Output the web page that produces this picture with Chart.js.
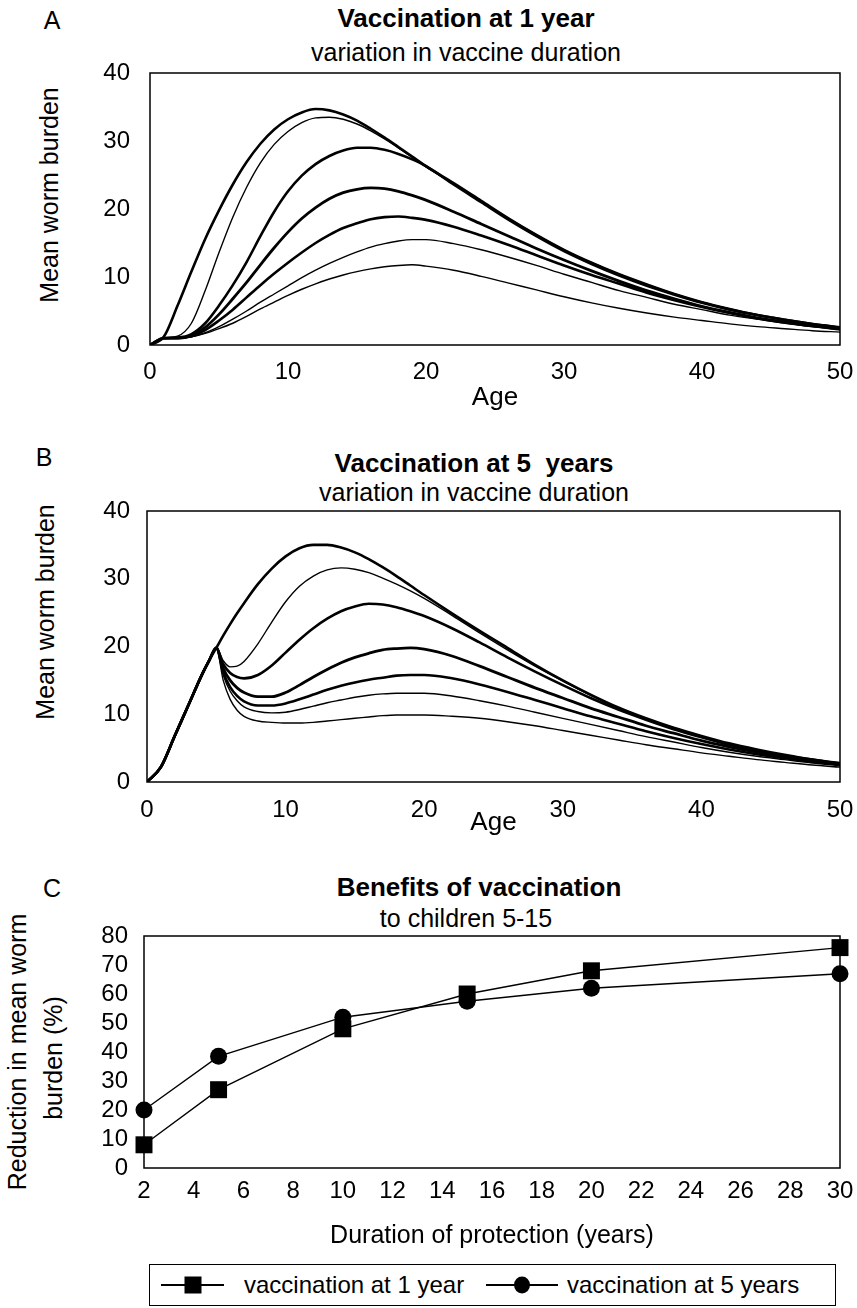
<!DOCTYPE html>
<html>
<head>
<meta charset="utf-8">
<title>Vaccination and mean worm burden</title>
<script src="https://cdn.jsdelivr.net/npm/chart.js@4.4.1/dist/chart.umd.min.js"></script>
<style>
  html, body { margin: 0; padding: 0; background: #fff; }
  body { font-family: "Liberation Sans", Arial, sans-serif; color: #000; }
  #page { position: relative; width: 857px; height: 1308px; overflow: hidden; background: #fff; }
  #page canvas { position: absolute; left: 0; }
  .t { position: absolute; white-space: pre; line-height: 1; transform: translate(-50%, -50%); }
  .letter { font-size: 25px; }
  .title { font-size: 26px; font-weight: bold; }
  .sub { font-size: 25px; }
  .ytitle { position: absolute; white-space: pre; line-height: 1; font-size: 25px; transform: translate(-50%, -50%) rotate(-90deg); }
  #legend { position: absolute; left: 149px; top: 1264px; width: 687px; height: 42px; border: 1.5px solid #000; box-sizing: border-box; }
  .sym { position: absolute; top: 50%; height: 1.5px; margin-top: -0.75px; background: #000; }
  .mk { position: absolute; left: 50%; top: 50%; background: #000; transform: translate(-50%, -50%); }
  .lt { position: absolute; top: 50%; font-size: 24px; line-height: 1; white-space: nowrap; transform: translateY(-50%); }
</style>
</head>
<body>
<div id="page">
  <div class="t letter" style="left:52px;top:20px">A</div>
  <div class="t title" style="left:466px;top:18px">Vaccination at 1 year</div>
  <div class="t sub" style="left:466px;top:52px">variation in vaccine duration</div>
  <div class="ytitle" style="left:49px;top:195px">Mean worm burden</div>
  <canvas id="chartA" width="880" height="382" style="top:33px"></canvas>

  <div class="t letter" style="left:44px;top:457px">B</div>
  <div class="t title" style="left:474px;top:463px">Vaccination at 5  years</div>
  <div class="t sub" style="left:474px;top:492px">variation in vaccine duration</div>
  <div class="ytitle" style="left:45px;top:612px">Mean worm burden</div>
  <canvas id="chartB" width="880" height="369" style="top:471px"></canvas>

  <div class="t letter" style="left:52px;top:888px">C</div>
  <div class="t title" style="left:479px;top:887px">Benefits of vaccination</div>
  <div class="t sub" style="left:466px;top:918px">to children 5-15</div>
  <div class="ytitle" style="left:17px;top:1052px">Reduction in mean worm</div>
  <div class="ytitle" style="left:53px;top:1058px">burden (%)</div>
  <canvas id="chartC" width="880" height="359" style="top:896px"></canvas>

  <div id="legend">
    <div class="sym" style="left:11px;width:63px"><div class="mk" style="width:17px;height:17px"></div></div>
    <div class="lt" style="left:94px">vaccination at 1 year</div>
    <div class="sym" style="left:336px;width:72px"><div class="mk" style="width:16px;height:17px;border-radius:50%"></div></div>
    <div class="lt" style="left:417px">vaccination at 5 years</div>
  </div>
</div>

<script>
// panel A: vaccination at 1 year, mean worm burden by age
const agesA = [0, 1, 2, 3, 4, 5, 6, 7, 8, 9, 10, 11, 12, 13, 14, 15, 16, 17, 18, 19, 20,
               22, 24, 26, 28, 30, 32, 34, 36, 38, 40, 42, 44, 46, 48, 50];
const burdenA1 = [0, 1.2, 5.8, 10.8, 15.6, 19.8, 23.6, 26.9, 29.6, 31.7, 33.2, 34.2, 34.7, 34.5, 33.9, 33.0, 31.8, 30.5, 29.1, 27.7, 26.3,
                  23.8, 21.2, 18.6, 16.2, 14.0, 12.1, 10.4, 8.9, 7.5, 6.3, 5.3, 4.4, 3.7, 3.1, 2.6];
const burdenA2 = [0, 1.0, 1.3, 3.2, 8.0, 13.6, 18.8, 23.2, 26.8, 29.5, 31.4, 32.7, 33.4, 33.5, 33.2, 32.5, 31.5, 30.3, 29.0, 27.6, 26.2,
                  23.7, 21.1, 18.6, 16.2, 14.0, 12.1, 10.4, 8.9, 7.5, 6.3, 5.3, 4.4, 3.7, 3.1, 2.6];
const burdenA3 = [0, 1.0, 1.1, 1.6, 3.2, 5.8, 8.8, 12.2, 16.0, 19.6, 22.6, 24.9, 26.6, 27.8, 28.6, 29.0, 29.0, 28.7, 28.1, 27.3, 26.3,
                  23.6, 21.0, 18.4, 16.0, 13.8, 11.9, 10.2, 8.7, 7.4, 6.2, 5.2, 4.4, 3.7, 3.1, 2.6];
const burdenA4 = [0, 1.0, 1.0, 1.4, 2.6, 4.5, 6.8, 9.2, 11.8, 14.3, 16.6, 18.6, 20.2, 21.5, 22.4, 22.9, 23.1, 23.0, 22.6, 22.0, 21.3,
                  19.6, 17.8, 16.0, 14.2, 12.5, 10.9, 9.4, 8.0, 6.8, 5.7, 4.8, 4.0, 3.4, 2.8, 2.4];
const burdenA5 = [0, 1.0, 1.0, 1.3, 2.2, 3.6, 5.2, 7.0, 8.8, 10.5, 12.1, 13.6, 15.0, 16.2, 17.2, 17.9, 18.5, 18.8, 18.9, 18.7, 18.4,
                  17.4, 16.1, 14.7, 13.2, 11.7, 10.3, 9.0, 7.7, 6.6, 5.6, 4.7, 3.9, 3.3, 2.8, 2.3];
const burdenA6 = [0, 1.0, 1.0, 1.2, 1.8, 2.7, 3.8, 5.0, 6.3, 7.5, 8.7, 9.9, 11.0, 12.0, 12.9, 13.7, 14.4, 14.9, 15.3, 15.5, 15.5,
                  14.9, 14.0, 12.9, 11.7, 10.4, 9.2, 8.0, 7.0, 6.0, 5.2, 4.4, 3.8, 3.2, 2.7, 2.3];
const burdenA7 = [0, 1.0, 1.0, 1.2, 1.7, 2.4, 3.2, 4.2, 5.3, 6.3, 7.3, 8.2, 9.0, 9.7, 10.3, 10.8, 11.2, 11.5, 11.7, 11.8, 11.6,
                  11.0, 10.1, 9.1, 8.1, 7.1, 6.2, 5.4, 4.7, 4.1, 3.6, 3.1, 2.7, 2.4, 2.1, 1.9];

// panel B: vaccination at 5 years
const agesB = [0, 1, 2, 3, 4, 4.5, 5, 5.5, 6, 6.5, 7, 8, 9, 10, 11, 12, 13, 14, 15, 16, 17, 18, 19, 20,
               22, 24, 26, 28, 30, 32, 34, 36, 38, 40, 42, 44, 46, 48, 50];
const burdenB1 = [0, 2.2, 6.8, 11.4, 16.0, 18.0, 19.8, 21.6, 23.3, 24.9, 26.4, 29.2, 31.5, 33.3, 34.5, 35.0, 35.0, 34.6, 33.9, 32.9, 31.7, 30.4, 29.0, 27.6,
                  24.9, 22.3, 19.8, 17.3, 15.0, 12.9, 11.0, 9.4, 8.0, 6.8, 5.7, 4.8, 4.0, 3.3, 2.8];
const burdenB2 = [0, 2.2, 6.8, 11.4, 16.0, 18.0, 19.8, 17.9, 17.0, 17.1, 17.8, 20.4, 23.6, 26.6, 28.9, 30.4, 31.3, 31.6, 31.4, 30.9, 30.1, 29.2, 28.2, 27.1,
                  24.6, 22.0, 19.5, 17.1, 14.9, 12.8, 10.9, 9.3, 7.9, 6.7, 5.6, 4.7, 3.9, 3.3, 2.7];
const burdenB3 = [0, 2.2, 6.8, 11.4, 16.0, 18.0, 19.8, 17.4, 16.1, 15.5, 15.3, 15.8, 17.2, 19.1, 21.0, 22.7, 24.1, 25.2, 25.9, 26.3, 26.2, 25.8, 25.2, 24.5,
                  22.7, 20.6, 18.4, 16.3, 14.3, 12.4, 10.7, 9.2, 7.8, 6.6, 5.5, 4.6, 3.9, 3.3, 2.7];
const burdenB4 = [0, 2.2, 6.8, 11.4, 16.0, 18.0, 19.8, 16.8, 15.0, 13.9, 13.2, 12.6, 12.6, 13.2, 14.3, 15.5, 16.6, 17.6, 18.4, 19.0, 19.5, 19.7, 19.8, 19.6,
                  18.6, 17.1, 15.5, 13.9, 12.4, 10.9, 9.6, 8.3, 7.2, 6.1, 5.2, 4.4, 3.7, 3.1, 2.6];
const burdenB5 = [0, 2.2, 6.8, 11.4, 16.0, 18.0, 19.8, 16.2, 14.0, 12.7, 11.9, 11.3, 11.3, 11.6, 12.2, 12.9, 13.6, 14.2, 14.7, 15.1, 15.4, 15.7, 15.8, 15.8,
                  15.3, 14.4, 13.3, 12.1, 10.9, 9.7, 8.6, 7.5, 6.5, 5.6, 4.8, 4.1, 3.5, 3.0, 2.6];
const burdenB6 = [0, 2.2, 6.8, 11.4, 16.0, 18.0, 19.8, 15.8, 13.4, 12.0, 11.1, 10.4, 10.2, 10.3, 10.7, 11.2, 11.7, 12.1, 12.5, 12.8, 13.0, 13.1, 13.1, 13.1,
                  12.7, 12.0, 11.2, 10.3, 9.4, 8.5, 7.6, 6.7, 5.9, 5.1, 4.4, 3.8, 3.3, 2.8, 2.4];
const burdenB7 = [0, 2.2, 6.8, 11.4, 16.0, 18.0, 19.8, 15.0, 12.2, 10.6, 9.7, 9.0, 8.8, 8.7, 8.7, 8.8, 9.0, 9.2, 9.4, 9.6, 9.8, 9.9, 9.9, 9.9,
                  9.7, 9.4, 8.9, 8.3, 7.6, 6.9, 6.2, 5.5, 4.9, 4.3, 3.8, 3.3, 2.9, 2.5, 2.2];

// panel C: reduction in mean worm burden (%) for children 5-15
const durations = [2, 5, 10, 15, 20, 30];
const reductionAt1 = [8, 27, 48, 60, 68, 76];
const reductionAt5 = [20, 38.5, 52, 57.5, 62, 67];

const ageTicks = [0, 10, 20, 30, 40, 50];
const FONT = "'Liberation Sans', Arial, sans-serif";

// box round the plot area
const frame = {
    id: 'frame',
    beforeDatasetsDraw: function(chart) {
        const ctx = chart.ctx;
        const a = chart.chartArea;
        ctx.save();
        ctx.strokeStyle = '#000';
        ctx.lineWidth = 1.5;
        ctx.strokeRect(a.left, a.top, a.right - a.left, a.bottom - a.top);
        ctx.restore();
    }
};

function curve(xs, ys, width) {
    return {
        data: xs.map(function(x, i) { return { x: x, y: ys[i] }; }),
        borderColor: '#000',
        borderWidth: width,
        pointRadius: 0,
        fill: false,
        cubicInterpolationMode: 'monotone'
    };
}

// canvases are 880 wide, the page clips them at 857; plot right edge sits at 840
function ageOptions(axisLeft, axisHeight, tickPad, titlePad) {
    return {
        responsive: false,
        animation: false,
        layout: { padding: { top: 40, right: 40, bottom: 0, left: 0 } },
        plugins: { legend: { display: false }, tooltip: { enabled: false } },
        scales: {
            x: {
                type: 'linear', min: 0, max: 50,
                afterFit: function(s) { s.height = axisHeight; },
                afterBuildTicks: function(s) { s.ticks = ageTicks.map(function(v) { return { value: v }; }); },
                grid: { display: false, drawTicks: false },
                border: { display: false },
                ticks: { color: '#000', font: { family: FONT, size: 24 }, padding: tickPad, maxRotation: 0, autoSkip: false },
                title: { display: true, text: 'Age', color: '#000', font: { family: FONT, size: 26 }, padding: { top: 0, bottom: titlePad } }
            },
            y: {
                min: 0, max: 40,
                afterFit: function(s) { s.width = axisLeft; },
                grid: { display: false, drawTicks: false },
                border: { display: false },
                ticks: { stepSize: 10, color: '#000', font: { family: FONT, size: 24 }, padding: axisLeft - 130, autoSkip: false }
            }
        }
    };
}

new Chart(document.getElementById('chartA').getContext('2d'), {
    type: 'line',
    data: {
        datasets: [
            curve(agesA, burdenA7, 1.4),
            curve(agesA, burdenA6, 1.4),
            curve(agesA, burdenA5, 2.6),
            curve(agesA, burdenA4, 2.8),
            curve(agesA, burdenA3, 2.6),
            curve(agesA, burdenA2, 1.4),
            curve(agesA, burdenA1, 2.6)
        ]
    },
    options: ageOptions(150, 70, 13, 2),
    plugins: [frame]
});

new Chart(document.getElementById('chartB').getContext('2d'), {
    type: 'line',
    data: {
        datasets: [
            curve(agesB, burdenB7, 1.4),
            curve(agesB, burdenB6, 1.4),
            curve(agesB, burdenB5, 2.6),
            curve(agesB, burdenB4, 2.8),
            curve(agesB, burdenB3, 2.6),
            curve(agesB, burdenB2, 1.4),
            curve(agesB, burdenB1, 2.6)
        ]
    },
    options: ageOptions(147, 58, 14, 2),
    plugins: [frame]
});

new Chart(document.getElementById('chartC').getContext('2d'), {
    type: 'line',
    data: {
        datasets: [
            {
                label: 'vaccination at 5 years',
                data: durations.map(function(d, i) { return { x: d, y: reductionAt5[i] }; }),
                borderColor: '#000', borderWidth: 1.4, backgroundColor: '#000',
                pointStyle: 'circle', pointRadius: 8.5, pointBorderWidth: 0,
                tension: 0, clip: false
            },
            {
                label: 'vaccination at 1 year',
                data: durations.map(function(d, i) { return { x: d, y: reductionAt1[i] }; }),
                borderColor: '#000', borderWidth: 1.4, backgroundColor: '#000',
                pointStyle: 'rect', pointRadius: 12, pointBorderWidth: 0,
                tension: 0, clip: false
            }
        ]
    },
    options: {
        responsive: false,
        animation: false,
        layout: { padding: { top: 40, right: 40, bottom: 0, left: 0 } },
        plugins: { legend: { display: false }, tooltip: { enabled: false } },
        scales: {
            x: {
                type: 'linear', min: 2, max: 30,
                afterFit: function(s) { s.height = 87; },
                grid: { display: false, drawTicks: false },
                border: { display: false },
                ticks: { stepSize: 2, color: '#000', font: { family: FONT, size: 24 }, padding: 9, maxRotation: 0, autoSkip: false },
                title: { display: true, text: 'Duration of protection (years)', color: '#000', font: { family: FONT, size: 25 }, padding: { top: 0, bottom: 4 } }
            },
            y: {
                min: 0, max: 80,
                afterFit: function(s) { s.width = 144; },
                grid: { display: false, drawTicks: false },
                border: { display: false },
                ticks: { stepSize: 10, color: '#000', font: { family: FONT, size: 24 }, padding: 16, autoSkip: false }
            }
        }
    },
    plugins: [frame]
});
</script>
</body>
</html>
